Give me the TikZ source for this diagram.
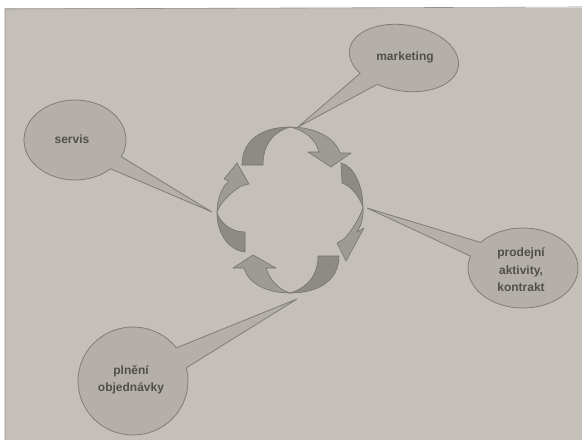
\documentclass[tikz,border=0pt]{standalone}
\usepackage{fontspec}
\setmainfont{Liberation Sans}
\definecolor{pageC}{RGB}{196,191,185}
\definecolor{edgeC}{RGB}{150,146,140}
\definecolor{bubC}{RGB}{180,175,169}
\definecolor{lineC}{RGB}{128,124,119}
\definecolor{arrD}{RGB}{142,138,133}
\definecolor{arrL}{RGB}{158,154,149}
\definecolor{arrLine}{RGB}{118,114,110}
\definecolor{txtC}{RGB}{82,79,75}
\begin{document}
\begin{tikzpicture}[x=1pt,y=-1pt,
  bline/.style={draw=lineC, line width=0.8pt},
  bfill/.style={fill=bubC},
  adark/.style={fill=arrD, draw=arrLine, line width=0.6pt, line join=round},
  alight/.style={fill=arrL, draw=arrLine, line width=0.6pt, line join=round},
  lbl/.style={font=\bfseries\fontsize{12}{17.5}\selectfont, text=txtC, align=center, inner sep=0pt}]
\useasboundingbox (0,0) rectangle (582,440);
% page
\fill[pageC] (0,0) rectangle (582,440);
\fill[white] (0,0) rectangle (582,8);
\fill[white] (0,0) rectangle (5,440);
\draw[edgeC, line width=0.6pt] (5,440) -- (5,9) -- (582,7);

% ---------- marketing bubble ----------
\fill[bfill] (371,64) -- (298,127) -- (391,77) -- cycle;
\fill[bfill, rotate around={-9:(404,58)}] (404,58) ellipse [x radius=55, y radius=33];
\begin{scope}[even odd rule]
  \clip (-200,-200) rectangle (800,700) (371,64) -- (298,127) -- (391,77) -- cycle;
  \draw[bline, rotate around={-9:(404,58)}] (404,58) ellipse [x radius=55, y radius=33];
\end{scope}
\begin{scope}[even odd rule, rotate around={-9:(404,58)}]
  \clip (-200,-200) rectangle (800,700) (404,58) ellipse [x radius=55, y radius=33];
  \draw[bline, rotate around={9:(404,58)}] (371,64) -- (298,127) -- (391,77);
\end{scope}

% ---------- servis bubble ----------
\fill[bfill] (112,151) -- (212,212) -- (97,163) -- cycle;
\fill[bfill] (75,140) ellipse [x radius=51, y radius=40];
\begin{scope}[even odd rule]
  \clip (-200,-200) rectangle (800,700) (112,151) -- (212,212) -- (97,163) -- cycle;
  \draw[bline] (75,140) ellipse [x radius=51, y radius=40];
\end{scope}
\begin{scope}[even odd rule]
  \clip (-200,-200) rectangle (800,700) (75,140) ellipse [x radius=51, y radius=40];
  \draw[bline] (112,151) -- (212,212) -- (97,163);
\end{scope}

% ---------- prodejni bubble ----------
\fill[bfill] (489,245) -- (367,208) -- (481,261) -- cycle;
\fill[bfill] (523,268) ellipse [x radius=55, y radius=40];
\begin{scope}[even odd rule]
  \clip (-200,-200) rectangle (800,700) (489,245) -- (367,208) -- (481,261) -- cycle;
  \draw[bline] (523,268) ellipse [x radius=55, y radius=40];
\end{scope}
\begin{scope}[even odd rule]
  \clip (-200,-200) rectangle (800,700) (523,268) ellipse [x radius=55, y radius=40];
  \draw[bline] (489,245) -- (367,208) -- (481,261);
\end{scope}

% ---------- plneni bubble ----------
\fill[bfill] (166,352) -- (297,299) -- (178,373) -- cycle;
\fill[bfill] (133,381) ellipse [x radius=55, y radius=54];
\begin{scope}[even odd rule]
  \clip (-200,-200) rectangle (800,700) (166,352) -- (297,299) -- (178,373) -- cycle;
  \draw[bline] (133,381) ellipse [x radius=55, y radius=54];
\end{scope}
\begin{scope}[even odd rule]
  \clip (-200,-200) rectangle (800,700) (133,381) ellipse [x radius=55, y radius=54];
  \draw[bline] (166,352) -- (297,299) -- (178,373);
\end{scope}

% ---------- cycle arrows ----------
% top
\path[adark] (242,165) .. controls (242,140) and (262,127) .. (290,127)
  .. controls (276,131) and (263,142) .. (263,165) -- cycle;
\path[alight] (290,127) .. controls (314,127) and (335,137) .. (340,153)
  -- (351,153) -- (331,167) -- (308,152) -- (319,152)
  .. controls (316,140) and (305,130) .. (290,127) -- cycle;
% right
\path[adark] (341,163) .. controls (354,166) and (363,186) .. (363,207)
  .. controls (359,196) and (351,186) .. (342,183) -- cycle;
\path[alight] (363,207) .. controls (364,217) and (361,226) .. (357,232)
  -- (364,228) -- (346,261) -- (337,243) -- (344,239)
  .. controls (352,230) and (360,218) .. (363,207) -- cycle;
% bottom
\path[adark] (339,256) .. controls (339,281) and (318,293) .. (290,293)
  .. controls (304,289) and (318,278) .. (318,256) -- cycle;
\path[alight] (290,293) .. controls (266,293) and (248,283) .. (244,268)
  -- (233,268) -- (253,255) -- (276,268) -- (266,268)
  .. controls (270,281) and (280,290) .. (290,293) -- cycle;
% left
\path[adark] (245,252) .. controls (228,250) and (217,233) .. (217,213)
  .. controls (221,224) and (232,232) .. (245,232) -- cycle;
\path[alight] (217,213) .. controls (217,198) and (222,187) .. (229,181)
  -- (224,179) -- (237,163) -- (249,184) -- (241,186)
  .. controls (229,194) and (219,204) .. (217,213) -- cycle;

% ---------- labels ----------
\node[lbl] (mk) at (405,57) {marketing};
\node[lbl] (sv) at (72,139) {servis};
\node[lbl] (pa) at (521,270) {prodejní\\aktivity,\\kontrakt};
\node[lbl] (po) at (131,380) {plnění\\objednávky};
\end{tikzpicture}
\end{document}
